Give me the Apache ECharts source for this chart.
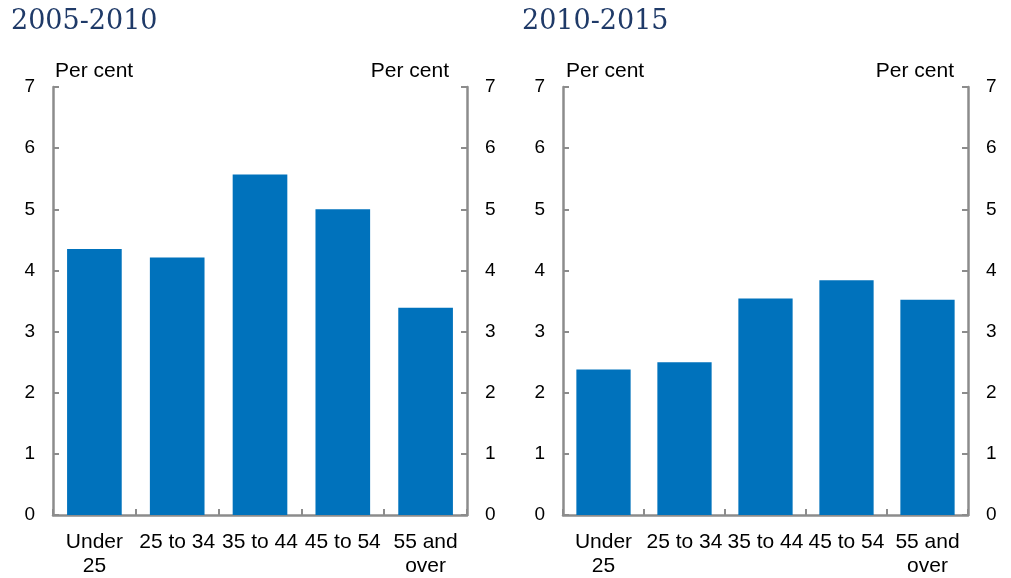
<!DOCTYPE html>
<html><head><meta charset="utf-8">
<script src="https://cdn.jsdelivr.net/npm/echarts@6/dist/echarts.min.js"></script>
<style>html,body{margin:0;padding:0;background:#fff;overflow:hidden}#c{width:1011px;height:578px}</style>
</head><body><div id="c"></div>
<script>
const categories = ['Under\n25', '25 to 34', '35 to 44', '45 to 54', '55 and\nover'];
const values2005_2010 = [4.35, 4.21, 5.57, 5.0, 3.39];
const values2010_2015 = [2.38, 2.50, 3.54, 3.84, 3.52];
const panelTitles = ['2005-2010', '2010-2015'];
const yUnit = 'Per cent';

const chart = echarts.init(document.getElementById('c'), null, {renderer: 'canvas', width: 1011, height: 578});
const axisColor = '#8c8c8c';
const grids = [
  {left: 53, right: 1011 - 467, top: 87, bottom: 60},
  {left: 563, right: 1011 - 968, top: 87, bottom: 60}
];
function xAx(i) {
  return {type: 'category', gridIndex: i, data: categories,
    axisLine: {lineStyle: {color: axisColor, width: 2.5}},
    axisTick: {show: true, inside: true, length: 6, lineStyle: {color: axisColor, width: 2}},
    axisLabel: {color: '#000', fontFamily: 'Liberation Sans, Arial', fontSize: 21, margin: 15, lineHeight: 24, interval: 0}};
}
function yAx(i, pos) {
  return {type: 'value', gridIndex: i, position: pos, min: 0, max: 7, interval: 1,
    axisLine: {show: true, lineStyle: {color: axisColor, width: 2.5}},
    axisTick: {show: true, inside: true, length: 6, lineStyle: {color: axisColor, width: 2}},
    splitLine: {show: false},
    axisLabel: {color: '#000', fontFamily: 'Liberation Sans, Arial', fontSize: 19, margin: 18}};
}
const titleStyle = {color: '#1f3a68', fontFamily: 'DejaVu Serif, serif', fontSize: 27, fontWeight: 'normal'};
const unitStyle = {color: '#000', fontFamily: 'Liberation Sans, Arial', fontSize: 21, fontWeight: 'normal'};
chart.setOption({
  animation: false,
  title: [
    {text: panelTitles[0], left: 6, top: 3, textStyle: titleStyle},
    {text: panelTitles[1], left: 517, top: 3, textStyle: titleStyle},
    {text: yUnit, left: 50, top: 56, textStyle: unitStyle},
    {text: yUnit, right: 1011 - 454, top: 56, textStyle: unitStyle},
    {text: yUnit, left: 561, top: 56, textStyle: unitStyle},
    {text: yUnit, right: 1011 - 959, top: 56, textStyle: unitStyle}
  ],
  grid: grids,
  xAxis: [xAx(0), xAx(1)],
  yAxis: [yAx(0, 'left'), yAx(0, 'right'), yAx(1, 'left'), yAx(1, 'right')],
  series: [
    {type: 'bar', xAxisIndex: 0, yAxisIndex: 0, data: values2005_2010, barCategoryGap: '34%', itemStyle: {color: '#0072bc'}},
    {type: 'bar', xAxisIndex: 1, yAxisIndex: 2, data: values2010_2015, barCategoryGap: '33%', itemStyle: {color: '#0072bc'}}
  ]
});
</script></body></html>
